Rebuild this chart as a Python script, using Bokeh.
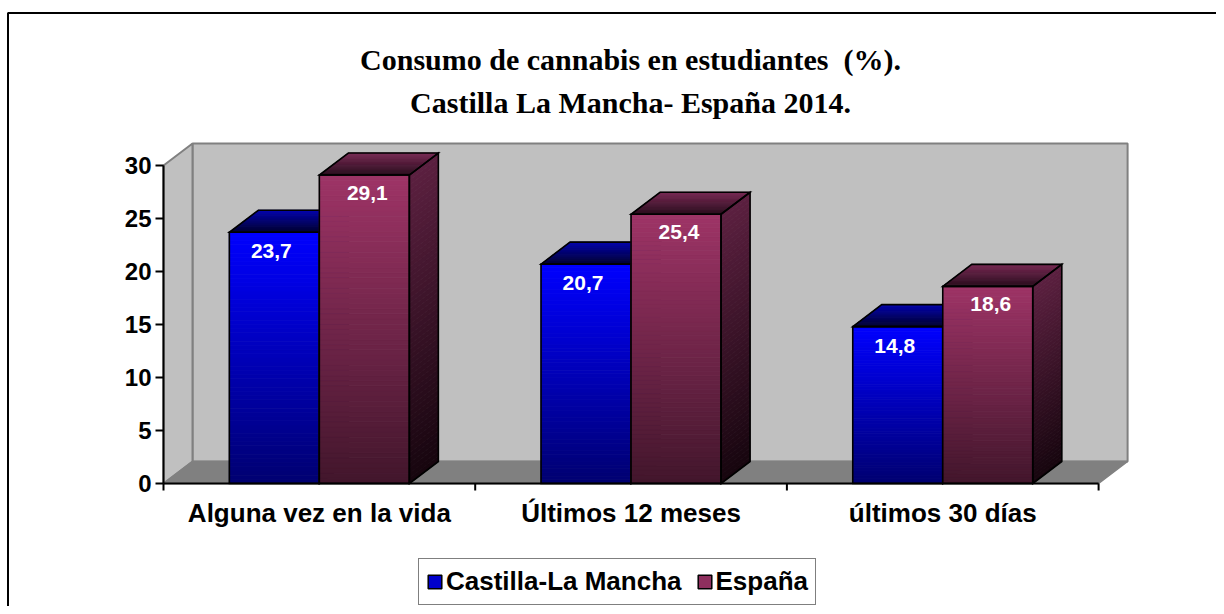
from bokeh.plotting import figure
from bokeh.models import Range1d, Label, Legend, LegendItem
from bokeh.embed import file_html
from bokeh.resources import INLINE
from bokeh.core.properties import value

# ---------------- data ----------------
categories = ["Alguna vez en la vida", "Últimos 12 meses", "últimos 30 días"]
series_names = ["Castilla-La Mancha", "España"]
clm = [23.7, 20.7, 14.8]
esp = [29.1, 25.4, 18.6]
clm_labels = ["23,7", "20,7", "14,8"]
esp_labels = ["29,1", "25,4", "18,6"]
y_ticks = [0, 5, 10, 15, 20, 25, 30]
y_tick_labels = ["0", "5", "10", "15", "20", "25", "30"]
title_lines = ["Consumo de cannabis en estudiantes\u00a0\u00a0(%).", "Castilla La Mancha- España 2014."]

# ---------------- geometry ----------------
W, H = 1216, 606
CW = 311.7          # px per category
VH = 10.6           # px per value unit
X0 = -163 / CW
Y1 = 483 / VH
DX = 29 / CW        # 3D depth offset
DY = 22 / VH
BW = 90 / CW        # bar width
YMAX = 30
NCAT = len(categories)

p = figure(width=W, height=H, output_backend="svg", toolbar_location=None,
           x_range=Range1d(X0, X0 + W / CW), y_range=Range1d(Y1 - H / VH, Y1),
           min_border=0, min_border_left=0, min_border_right=0,
           min_border_top=0, min_border_bottom=0)
p.axis.visible = False
p.grid.visible = False
p.outline_line_color = None
p.background_fill_color = "white"
p.border_fill_color = "white"

FONT = "Liberation Sans"

# outer chart border (left and top visible)
bx = X0 + 7.5 / CW
by = Y1 - 12.5 / VH
p.line([bx, bx, X0 + W / CW + 1], [Y1 - H / VH - 1, by, by], line_color="black", line_width=2)

# ---------------- walls & floor ----------------
p.quad(left=[DX], right=[NCAT + DX], bottom=[DY], top=[YMAX + DY],
       fill_color="#C0C0C0", line_color="#808080", line_width=2)
p.patch([0, DX, DX, 0], [0, DY, YMAX + DY, YMAX], fill_color="#C0C0C0",
        line_color="#808080", line_width=2)
p.patch([0, NCAT, NCAT + DX, DX], [0, 0, DY, DY], fill_color="#808080",
        line_color="#808080", line_width=1.5)


def lerp(c1, c2, t):
    return "#%02x%02x%02x" % tuple(int(round(a + (b - a) * t)) for a, b in zip(c1, c2))


def bar3d(xl, v, front_top, front_bot, side_top, side_bot, top_back, top_front, n=60):
    xr = xl + BW
    # front face
    lefts, rights, bots, tops, cols = [], [], [], [], []
    for k in range(n):
        y0 = v * k / n
        y1 = v * (k + 1) / n
        t = (k + 0.5) / n
        lefts.append(xl); rights.append(xr); bots.append(y0); tops.append(y1)
        cols.append(lerp(front_bot, front_top, t))
    p.quad(left=lefts, right=rights, bottom=bots, top=tops, fill_color=cols,
           line_color=cols, line_width=0.8)
    # side face
    xs, ys, cols = [], [], []
    for k in range(n):
        y0 = v * k / n
        y1 = v * (k + 1) / n
        t = (k + 0.5) / n
        xs.append([xr, xr + DX, xr + DX, xr])
        ys.append([y0, y0 + DY, y1 + DY, y1])
        cols.append(lerp(side_bot, side_top, t))
    p.patches(xs, ys, fill_color=cols, line_color=cols, line_width=0.8)
    # top face
    m = 20
    xs, ys, cols = [], [], []
    for k in range(m):
        f0 = k / m
        f1 = (k + 1) / m
        t = (k + 0.5) / m
        xs.append([xl + f0 * DX, xr + f0 * DX, xr + f1 * DX, xl + f1 * DX])
        ys.append([v + f0 * DY, v + f0 * DY, v + f1 * DY, v + f1 * DY])
        cols.append(lerp(top_front, top_back, t))
    p.patches(xs, ys, fill_color=cols, line_color=cols, line_width=0.8)
    # outlines
    p.patches([[xl, xr, xr, xl], [xr, xr + DX, xr + DX, xr],
               [xl, xr, xr + DX, xl + DX]],
              [[0, 0, v, v], [0, DY, v + DY, v], [v, v, v + DY, v + DY]],
              fill_alpha=0, line_color="black", line_width=1.6, line_join="miter")


for i in range(NCAT):
    c = i + 0.5
    bar3d(c - BW, clm[i], (0, 0, 255), (0, 0, 112), (0, 0, 120), (0, 0, 40),
          (0, 0, 170), (0, 0, 45))
for i in range(NCAT):
    c = i + 0.5
    bar3d(c, esp[i], (158, 52, 102), (66, 22, 44), (92, 32, 64), (22, 5, 14),
          (118, 40, 82), (40, 12, 28))

# value labels
p.text(x=[i + 0.5 - BW / 2 - 3 / CW for i in range(NCAT)], y=[v - 1.8 for v in clm],
       text=clm_labels, text_color="white", text_font=value(FONT), text_font_style="bold",
       text_font_size="21px", text_align="center", text_baseline="middle")
p.text(x=[i + 0.5 + BW / 2 + 3 / CW for i in range(NCAT)], y=[v - 1.7 for v in esp],
       text=esp_labels, text_color="white", text_font=value(FONT), text_font_style="bold",
       text_font_size="21px", text_align="center", text_baseline="middle")

# ---------------- axes ----------------
p.segment(x0=[0], y0=[0], x1=[0], y1=[YMAX], line_color="black", line_width=2)
p.segment(x0=[-8 / CW] * len(y_ticks), y0=y_ticks, x1=[0] * len(y_ticks), y1=y_ticks,
          line_color="black", line_width=2)
p.text(x=[-12 / CW] * len(y_ticks), y=y_ticks, text=y_tick_labels, text_font=value(FONT),
       text_font_style="bold", text_font_size="24px", text_align="right",
       text_baseline="middle", text_color="black")
p.segment(x0=[0], y0=[0], x1=[NCAT], y1=[0], line_color="black", line_width=2)
p.segment(x0=list(range(NCAT + 1)), y0=[0] * (NCAT + 1), x1=list(range(NCAT + 1)),
          y1=[-7 / VH] * (NCAT + 1), line_color="black", line_width=2)
p.text(x=[i + 0.5 for i in range(NCAT)], y=[-29 / VH] * NCAT, text=categories,
       text_font=value(FONT), text_font_style="bold", text_font_size="26px",
       text_align="center", text_baseline="middle", text_color="black")

# ---------------- title ----------------
for k, (line, ypx) in enumerate(zip(title_lines, [547, 504])):
    p.add_layout(Label(x=630, y=ypx, x_units="screen", y_units="screen", text=line,
                       text_align="center", text_baseline="middle",
                       text_font="Liberation Serif", text_font_style="bold",
                       text_font_size="30px", text_color="black"))

# ---------------- legend ----------------
r1 = p.quad(left=[-50], right=[-49], bottom=[-50], top=[-49], fill_color="#0000CC",
            line_color="black", line_width=1.5)
r2 = p.quad(left=[-50], right=[-49], bottom=[-50], top=[-49], fill_color="#8E2F5E",
            line_color="black", line_width=1.5)
legend = Legend(items=[LegendItem(label=series_names[0], renderers=[r1]),
                       LegendItem(label=series_names[1], renderers=[r2])],
                orientation="horizontal", location=(418, 1),
                label_text_font=FONT, label_text_font_style="bold",
                label_text_font_size="26px", label_text_color="black",
                glyph_width=17, glyph_height=17,
                label_standoff=3, spacing=14, padding=7, margin=0,
                border_line_color="black", border_line_width=1.5,
                background_fill_color="white", background_fill_alpha=1.0)
p.add_layout(legend)

open("out.html", "w").write(file_html(p, INLINE))
